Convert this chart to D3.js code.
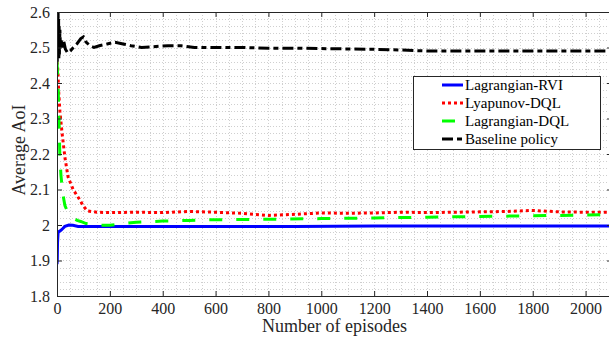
<!DOCTYPE html>
<html>
  <head>
	<meta charset="UTF-8">
    <title>Average AoI</title>
	<script type="text/javascript" src="https://cdn.jsdelivr.net/npm/d3@7/dist/d3.min.js"></script>
	<style>
		body { margin: 0; background: #fff; }
		svg text { font-family: "Liberation Serif", "DejaVu Serif", serif !important; }
	</style>
  </head>
  
  <body>
    <svg width="609" height="344"></svg>
    <script>
    	// data: [episode, average AoI]
    	var rviData = [[0,1.89],[1,1.90],[2,1.95],[4,1.978],[8,1.982],[15,1.985],[22,1.99],[30,1.996],[45,2.0],[60,1.999],
    		[80,1.996],[100,1.996],[300,1.996],[600,1.996],[900,1.996],[1200,1.997],[1500,1.997],[1800,1.997],[2100,1.997]];
    	var lyapData = [[0,2.46],[3,2.44],[6,2.38],[11,2.32],[19,2.26],[30,2.19],[42,2.135],[61,2.10],[87,2.07],[98,2.055],
    		[114,2.04],[150,2.036],[200,2.035],[300,2.036],[400,2.035],[500,2.038],[600,2.036],[700,2.033],[800,2.027],
    		[900,2.03],[1000,2.034],[1100,2.033],[1200,2.034],[1300,2.036],[1400,2.035],[1500,2.036],[1600,2.037],
    		[1700,2.038],[1800,2.041],[1900,2.037],[2000,2.036],[2100,2.036]];
    	var lagDqlData = [[0,2.46],[4,2.40],[8,2.28],[11,2.19],[15,2.14],[19,2.11],[25,2.075],[30,2.055],[40,2.037],
    		[50,2.028],[65,2.018],[76,2.013],[90,2.01],[110,2.004],[150,2.0],[200,1.999],[250,2.004],[300,2.008],
    		[400,2.011],[500,2.013],[600,2.015],[800,2.016],[1000,2.018],[1200,2.02],[1400,2.022],[1600,2.024],
    		[1800,2.026],[2000,2.028],[2100,2.029]];
    	var baseData = [[0,2.62],[1,2.46],[2,2.6],[3,2.48],[4,2.62],[5,2.47],[6,2.58],[7,2.47],[8,2.56],[9,2.48],
    		[11,2.55],[13,2.5],[16,2.52],[20,2.5],[25,2.52],[32,2.495],[40,2.485],[50,2.49],[62,2.5],[75,2.51],
    		[90,2.525],[100,2.53],[110,2.515],[125,2.505],[140,2.5],[160,2.505],[190,2.51],[220,2.515],[250,2.51],
    		[280,2.505],[320,2.5],[360,2.502],[420,2.505],[470,2.505],[520,2.5],[600,2.5],[700,2.5],[800,2.498],
    		[900,2.498],[1000,2.497],[1100,2.496],[1200,2.495],[1300,2.493],[1400,2.49],[1600,2.49],[1800,2.49],
    		[2000,2.49],[2100,2.49]];
    	var seriesNames = ["Lagrangian-RVI","Lyapunov-DQL","Lagrangian-DQL","Baseline policy"];
    	var xTicks = [0,200,400,600,800,1000,1200,1400,1600,1800,2000];
    	var yTicks = [1.8,1.9,2,2.1,2.2,2.3,2.4,2.5,2.6];

    	var series = [
    		{name:seriesNames[0],data:rviData,color:"#0000ff",dash:null},
    		{name:seriesNames[1],data:lyapData,color:"#ff0000",dash:"3,3"},
    		{name:seriesNames[2],data:lagDqlData,color:"#00ff00",dash:"13,14"},
    		{name:seriesNames[3],data:baseData,color:"#000000",dash:"11,4,5,4"}
    	];

    	var FONT = "Liberation Serif";
    	var marge = {top:12,bottom:48,left:57,right:-3}
    	var svg = d3.select("svg").style("font-family",FONT)
    	var width = +svg.attr("width") - marge.left - marge.right
    	var height = +svg.attr("height") - marge.top - marge.bottom
    	var g = svg.append("g")
    		.attr("transform","translate("+marge.left+","+marge.top+")");

    	var x = d3.scaleLinear().domain([0,2100]).range([0,width]);
    	var y = d3.scaleLinear().domain([1.8,2.6]).range([height,0]);

    	//网格
    	var xMinor = d3.range(0,2101,50);
    	var yMinor = d3.range(0,41).map(function(i){ return 1.8+i*0.02; });
    	var grid = g.append("g")
    		.attr("stroke","#cfcfcf")
    		.attr("stroke-width",1)
    		.attr("stroke-dasharray","1,2");
    	grid.selectAll(".gx").data(xMinor).enter().append("line")
    		.attr("x1",function(d){ return Math.round(x(d))+0.5; })
    		.attr("x2",function(d){ return Math.round(x(d))+0.5; })
    		.attr("y1",0).attr("y2",height);
    	grid.selectAll(".gy").data(yMinor).enter().append("line")
    		.attr("y1",function(d){ return Math.round(y(d))+0.5; })
    		.attr("y2",function(d){ return Math.round(y(d))+0.5; })
    		.attr("x1",0).attr("x2",width);

    	//曲线
    	g.append("clipPath").attr("id","clip")
    		.append("rect").attr("width",width).attr("height",height);
    	var line = d3.line()
    		.x(function(d){ return x(d[0]); })
    		.y(function(d){ return y(d[1]); });
    	g.append("g").attr("clip-path","url(#clip)")
    		.selectAll("path")
    		.data(series)
    		.enter()
    		.append("path")
    		.attr("d",function(d){ return line(d.data); })
    		.attr("fill","none")
    		.attr("stroke",function(d){ return d.color; })
    		.attr("stroke-width",3)
    		.attr("stroke-dasharray",function(d){ return d.dash; });

    	//坐标轴
    	var fmtY = function(d){ return String(+d.toFixed(1)); };
    	var fmtX = d3.format("d");
    	var xAxis = g.append("g")
    		.attr("transform","translate(0,"+height+")")
    		.call(d3.axisBottom(x).tickValues(xTicks).tickFormat(fmtX).tickSizeInner(-5).tickSizeOuter(0).tickPadding(7));
    	var yAxis = g.append("g")
    		.call(d3.axisLeft(y).tickValues(yTicks).tickFormat(fmtY).tickSizeInner(-5).tickSizeOuter(0).tickPadding(7));
    	var xTop = g.append("g")
    		.call(d3.axisTop(x).tickValues(xTicks).tickSizeInner(-5).tickSizeOuter(0).tickFormat(""));
    	var yRight = g.append("g")
    		.attr("transform","translate("+width+",0)")
    		.call(d3.axisRight(y).tickValues(yTicks).tickSizeInner(-5).tickSizeOuter(0).tickFormat(""));
    	[xAxis,yAxis,xTop,yRight].forEach(function(a){
    		a.attr("font-family",null).attr("font-size",16);
    		a.selectAll("path,line").attr("stroke","#262626");
    		a.selectAll("text").attr("fill","#262626").style("font-family",FONT);
    	});

    	//标签
    	svg.append("text")
    		.attr("x",marge.left+width/2)
    		.attr("y",332)
    		.attr("text-anchor","middle")
    		.attr("font-size",18)
    		.attr("fill","#262626")
    		.style("font-family",FONT)
    		.text("Number of episodes");
    	svg.append("text")
    		.attr("transform","translate(25,"+(marge.top+height/2-4)+") rotate(-90)")
    		.attr("text-anchor","middle")
    		.attr("font-size",18)
    		.attr("fill","#262626")
    		.style("font-family",FONT)
    		.text("Average AoI");

    	//图例
    	var legend = svg.append("g").attr("transform","translate(413,76)");
    	legend.append("rect")
    		.attr("x",0.5).attr("y",0.5)
    		.attr("width",187).attr("height",73)
    		.attr("fill","#fff")
    		.attr("stroke","#262626")
    		.attr("stroke-width",1);
    	var items = legend.selectAll(".item")
    		.data(series)
    		.enter()
    		.append("g")
    		.attr("transform",function(d,i){ return "translate(0,"+(9+i*18)+")"; });
    	items.append("line")
    		.attr("x1",29).attr("x2",function(d,i){ return i==2 ? 42 : 50; })
    		.attr("y1",0).attr("y2",0)
    		.attr("stroke",function(d){ return d.color; })
    		.attr("stroke-width",3)
    		.attr("stroke-dasharray",function(d){ return d.dash; });
    	items.append("text")
    		.attr("x",52)
    		.attr("y",0)
    		.attr("dy","0.35em")
    		.attr("font-size",15)
    		.attr("fill","#000")
    		.style("font-family",FONT)
    		.text(function(d){ return d.name; });
    </script>
  </body>
</html>
